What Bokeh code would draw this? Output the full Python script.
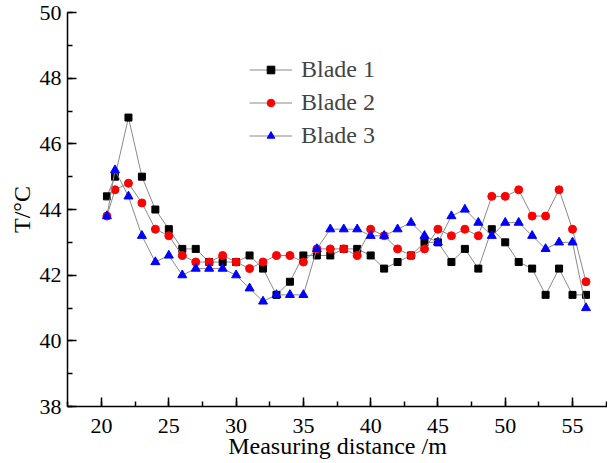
from bokeh.plotting import figure
from bokeh.models import Range1d, SingleIntervalTicker, Legend, LegendItem
from bokeh.embed import file_html
from bokeh.resources import INLINE

distance = [20.4, 21, 22, 23, 24, 25, 26, 27, 28, 29, 30, 31, 32, 33, 34, 35, 36, 37,
            38, 39, 40, 41, 42, 43, 44, 45, 46, 47, 48, 49, 50, 51, 52, 53, 54, 55, 56]
blade1 = [44.4, 45.0, 46.8, 45.0, 44.0, 43.4, 42.8, 42.8, 42.4, 42.4, 42.4, 42.6, 42.2, 41.4,
          41.8, 42.6, 42.6, 42.6, 42.8, 42.8, 42.6, 42.2, 42.4, 42.6, 43.0, 43.0, 42.4, 42.8,
          42.2, 43.4, 43.0, 42.4, 42.2, 41.4, 42.2, 41.4, 41.4]
blade2 = [43.8, 44.6, 44.8, 44.2, 43.4, 43.2, 42.6, 42.4, 42.4, 42.6, 42.4, 42.2, 42.4, 42.6,
          42.6, 42.4, 42.8, 42.8, 42.8, 42.6, 43.4, 43.2, 42.8, 42.6, 42.8, 43.4, 43.2, 43.4,
          43.2, 44.4, 44.4, 44.6, 43.8, 43.8, 44.6, 43.4, 41.8]
blade3 = [43.8, 45.2, 44.4, 43.2, 42.4, 42.6, 42.0, 42.2, 42.2, 42.2, 42.0, 41.6, 41.2, 41.4,
          41.4, 41.4, 42.8, 43.4, 43.4, 43.4, 43.2, 43.2, 43.4, 43.6, 43.2, 43.0, 43.8, 44.0,
          43.6, 43.2, 43.6, 43.6, 43.2, 42.8, 43.0, 43.0, 41.0]
series_names = ["Blade 1", "Blade 2", "Blade 3"]
x_title = "Measuring distance /m"
y_title = "T/°C"

FONT = "Liberation Serif"

p = figure(width=607, height=462, output_backend="svg", toolbar_location=None,
           x_range=Range1d(17.47, 57.6), y_range=Range1d(38, 50),
           min_border_left=67, min_border_right=0, min_border_top=12, min_border_bottom=56)
p.outline_line_color = None
p.grid.visible = False
p.background_fill_color = "white"

p.xaxis.ticker = SingleIntervalTicker(interval=5, num_minor_ticks=2)
p.yaxis.ticker = SingleIntervalTicker(interval=2, num_minor_ticks=2)
for ax in (p.xaxis, p.yaxis):
    ax.major_tick_in = 9
    ax.major_tick_out = 0
    ax.minor_tick_in = 5
    ax.minor_tick_out = 0
    ax.axis_line_width = 1.5
    ax.major_tick_line_width = 1.5
    ax.minor_tick_line_width = 1.5
    ax.axis_line_color = "black"
    ax.major_tick_line_color = "black"
    ax.minor_tick_line_color = "black"
    ax.major_label_text_font = FONT
    ax.major_label_text_font_size = "22px"
    ax.major_label_text_color = "black"
    ax.axis_label_text_font = FONT
    ax.axis_label_text_font_size = "24px"
    ax.axis_label_text_font_style = "normal"
    ax.axis_label_text_color = "black"
p.xaxis.major_label_standoff = 12
p.yaxis.major_label_standoff = 6
p.xaxis.axis_label = x_title
p.xaxis.axis_label_standoff = -3
p.yaxis.axis_label = y_title
p.yaxis.axis_label_standoff = 2

LINE = "#8a8a8a"
r1l = p.line(distance, blade1, line_color=LINE, line_width=1)
r1m = p.scatter(distance, blade1, marker="square", size=7, fill_color="black", line_color="black")
r2l = p.line(distance, blade2, line_color=LINE, line_width=1)
r2m = p.scatter(distance, blade2, marker="circle", size=8, fill_color="#ff0000", line_color="#ff0000")
r3l = p.line(distance, blade3, line_color=LINE, line_width=1)
r3m = p.scatter(distance, blade3, marker="triangle", size=9, fill_color="#0000ff", line_color="#0000ff")

legend = Legend(items=[LegendItem(label=series_names[0], renderers=[r1l, r1m]),
                       LegendItem(label=series_names[1], renderers=[r2l, r2m]),
                       LegendItem(label=series_names[2], renderers=[r3l, r3m])],
                location=(182, 257), glyph_width=43, glyph_height=19, label_height=19,
                spacing=6, padding=0, margin=0, border_line_color=None,
                background_fill_alpha=0, label_standoff=9,
                label_text_font=FONT, label_text_font_size="24px")
p.add_layout(legend)

open("out.html", "w").write(file_html(p, INLINE))
